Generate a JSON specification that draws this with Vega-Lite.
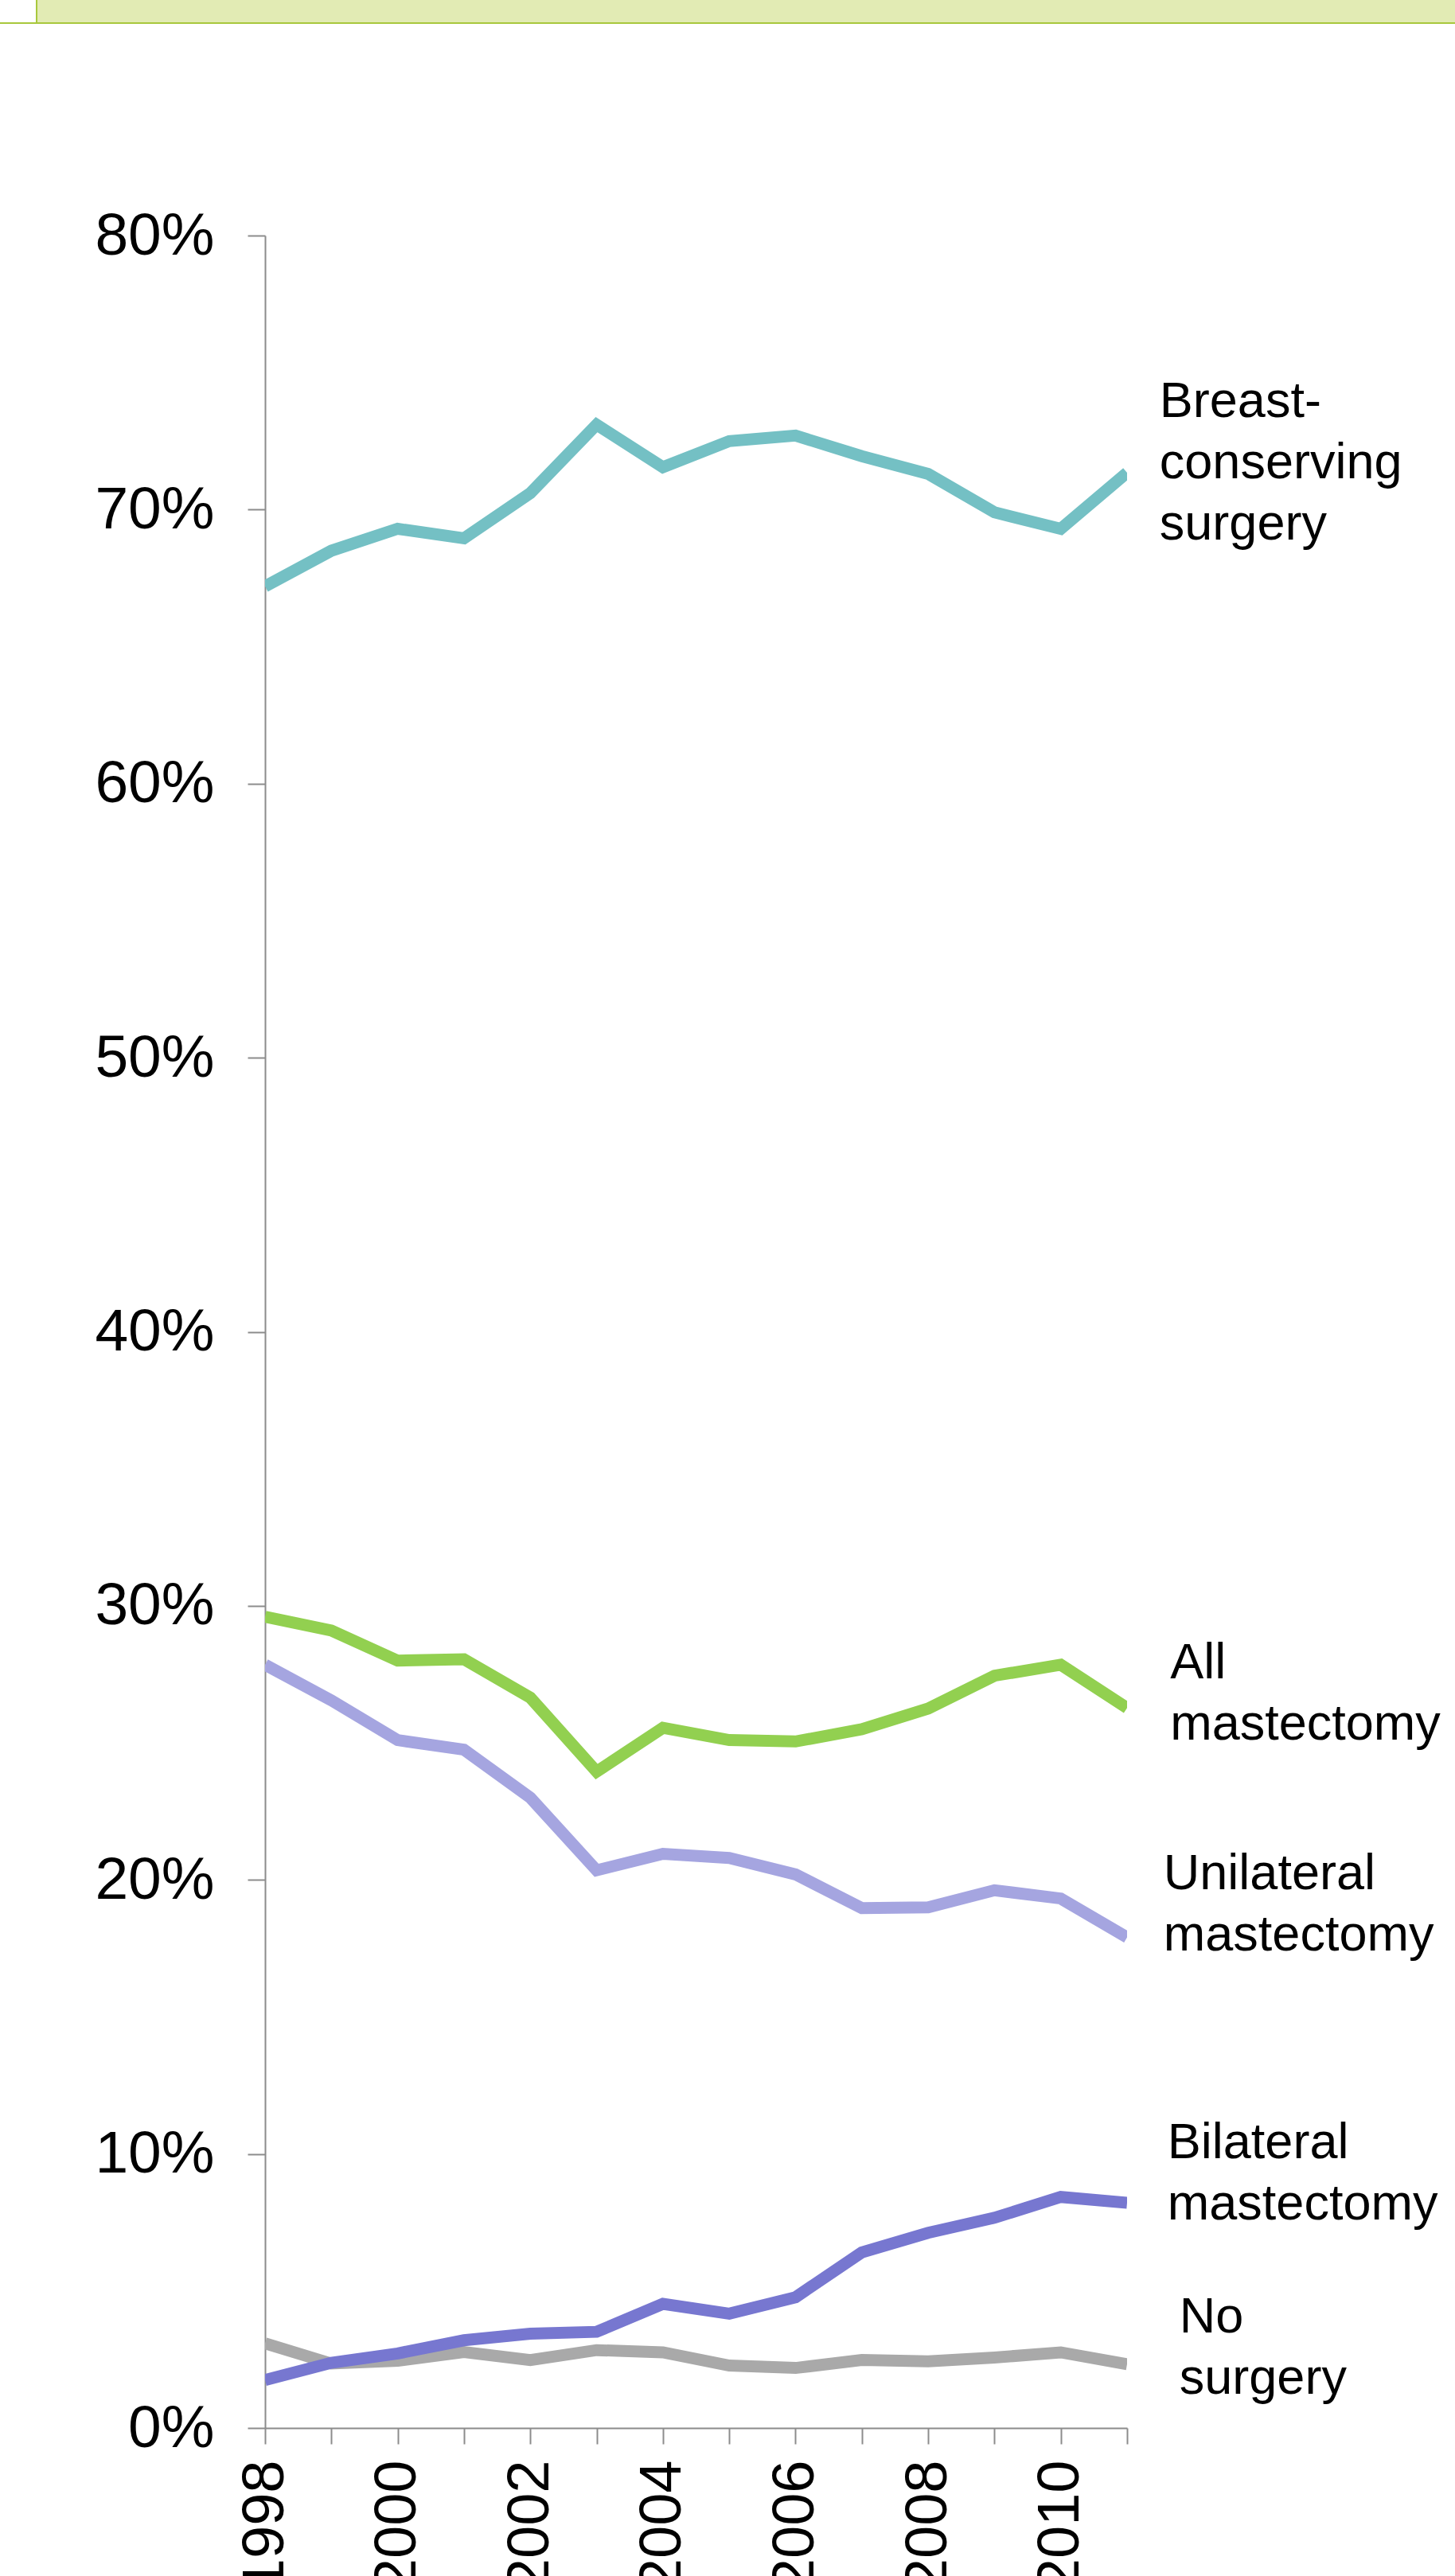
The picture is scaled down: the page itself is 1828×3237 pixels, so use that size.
{
  "$schema": "https://vega.github.io/schema/vega-lite/v6.json",
  "width": 1083,
  "height": 2755,
  "autosize": {"type": "none"},
  "padding": {"left": 333, "top": 296, "right": 412, "bottom": 186},
  "background": "white",
  "config": {"view": {"stroke": null}, "font": "Liberation Sans"},
  "datasets": {
    "series": [
      {"series": "No surgery", "year": 1998, "pct": 3.09},
      {"series": "No surgery", "year": 1999, "pct": 2.35},
      {"series": "No surgery", "year": 2000, "pct": 2.45},
      {"series": "No surgery", "year": 2001, "pct": 2.77},
      {"series": "No surgery", "year": 2002, "pct": 2.48},
      {"series": "No surgery", "year": 2003, "pct": 2.84},
      {"series": "No surgery", "year": 2004, "pct": 2.76},
      {"series": "No surgery", "year": 2005, "pct": 2.28},
      {"series": "No surgery", "year": 2006, "pct": 2.19},
      {"series": "No surgery", "year": 2007, "pct": 2.48},
      {"series": "No surgery", "year": 2008, "pct": 2.43},
      {"series": "No surgery", "year": 2009, "pct": 2.57},
      {"series": "No surgery", "year": 2010, "pct": 2.76},
      {"series": "No surgery", "year": 2011, "pct": 2.33},
      {"series": "Bilateral mastectomy", "year": 1998, "pct": 1.75},
      {"series": "Bilateral mastectomy", "year": 1999, "pct": 2.38},
      {"series": "Bilateral mastectomy", "year": 2000, "pct": 2.72},
      {"series": "Bilateral mastectomy", "year": 2001, "pct": 3.2},
      {"series": "Bilateral mastectomy", "year": 2002, "pct": 3.44},
      {"series": "Bilateral mastectomy", "year": 2003, "pct": 3.51},
      {"series": "Bilateral mastectomy", "year": 2004, "pct": 4.53},
      {"series": "Bilateral mastectomy", "year": 2005, "pct": 4.17},
      {"series": "Bilateral mastectomy", "year": 2006, "pct": 4.77},
      {"series": "Bilateral mastectomy", "year": 2007, "pct": 6.41},
      {"series": "Bilateral mastectomy", "year": 2008, "pct": 7.12},
      {"series": "Bilateral mastectomy", "year": 2009, "pct": 7.67},
      {"series": "Bilateral mastectomy", "year": 2010, "pct": 8.43},
      {"series": "Bilateral mastectomy", "year": 2011, "pct": 8.22},
      {"series": "Unilateral mastectomy", "year": 1998, "pct": 27.85},
      {"series": "Unilateral mastectomy", "year": 1999, "pct": 26.55},
      {"series": "Unilateral mastectomy", "year": 2000, "pct": 25.1},
      {"series": "Unilateral mastectomy", "year": 2001, "pct": 24.75},
      {"series": "Unilateral mastectomy", "year": 2002, "pct": 23.0},
      {"series": "Unilateral mastectomy", "year": 2003, "pct": 20.35},
      {"series": "Unilateral mastectomy", "year": 2004, "pct": 20.95},
      {"series": "Unilateral mastectomy", "year": 2005, "pct": 20.8},
      {"series": "Unilateral mastectomy", "year": 2006, "pct": 20.2},
      {"series": "Unilateral mastectomy", "year": 2007, "pct": 18.97},
      {"series": "Unilateral mastectomy", "year": 2008, "pct": 19.0},
      {"series": "Unilateral mastectomy", "year": 2009, "pct": 19.62},
      {"series": "Unilateral mastectomy", "year": 2010, "pct": 19.32},
      {"series": "Unilateral mastectomy", "year": 2011, "pct": 17.9},
      {"series": "All mastectomy", "year": 1998, "pct": 29.6},
      {"series": "All mastectomy", "year": 1999, "pct": 29.1},
      {"series": "All mastectomy", "year": 2000, "pct": 28.0},
      {"series": "All mastectomy", "year": 2001, "pct": 28.05},
      {"series": "All mastectomy", "year": 2002, "pct": 26.65},
      {"series": "All mastectomy", "year": 2003, "pct": 23.95},
      {"series": "All mastectomy", "year": 2004, "pct": 25.55},
      {"series": "All mastectomy", "year": 2005, "pct": 25.1},
      {"series": "All mastectomy", "year": 2006, "pct": 25.05},
      {"series": "All mastectomy", "year": 2007, "pct": 25.5},
      {"series": "All mastectomy", "year": 2008, "pct": 26.25},
      {"series": "All mastectomy", "year": 2009, "pct": 27.45},
      {"series": "All mastectomy", "year": 2010, "pct": 27.85},
      {"series": "All mastectomy", "year": 2011, "pct": 26.27},
      {"series": "Breast-conserving surgery", "year": 1998, "pct": 67.2},
      {"series": "Breast-conserving surgery", "year": 1999, "pct": 68.5},
      {"series": "Breast-conserving surgery", "year": 2000, "pct": 69.3},
      {"series": "Breast-conserving surgery", "year": 2001, "pct": 68.95},
      {"series": "Breast-conserving surgery", "year": 2002, "pct": 70.6},
      {"series": "Breast-conserving surgery", "year": 2003, "pct": 73.1},
      {"series": "Breast-conserving surgery", "year": 2004, "pct": 71.55},
      {"series": "Breast-conserving surgery", "year": 2005, "pct": 72.5},
      {"series": "Breast-conserving surgery", "year": 2006, "pct": 72.7},
      {"series": "Breast-conserving surgery", "year": 2007, "pct": 71.95},
      {"series": "Breast-conserving surgery", "year": 2008, "pct": 71.3},
      {"series": "Breast-conserving surgery", "year": 2009, "pct": 69.9},
      {"series": "Breast-conserving surgery", "year": 2010, "pct": 69.3},
      {"series": "Breast-conserving surgery", "year": 2011, "pct": 71.35}
    ],
    "labels": [
      {"label": "Breast-\nconserving\nsurgery", "year": 2011.49, "pct": 73.38},
      {"label": "All\nmastectomy", "year": 2011.65, "pct": 27.35},
      {"label": "Unilateral\nmastectomy", "year": 2011.55, "pct": 19.66},
      {"label": "Bilateral\nmastectomy", "year": 2011.61, "pct": 9.84},
      {"label": "No\nsurgery", "year": 2011.79, "pct": 3.48}
    ]
  },
  "layer": [
    {
      "data": {"values": [{}]},
      "mark": {"type": "rect", "fill": "#E2EBB4", "stroke": "#A8C83C", "strokeWidth": 2},
      "encoding": {
        "x": {"datum": 1994.555, "type": "quantitative", "scale": {"domain": [1998, 2011], "nice": false, "zero": false}},
        "x2": {"datum": 2017},
        "y": {"datum": 87.75, "type": "quantitative", "scale": {"domain": [0, 80], "nice": false, "zero": false}},
        "y2": {"datum": 91}
      }
    },
    {
      "data": {"values": [{}]},
      "mark": {"type": "rule", "stroke": "#A8C83C", "strokeWidth": 2},
      "encoding": {
        "x": {"datum": 1993.9, "type": "quantitative", "scale": {"domain": [1998, 2011], "nice": false, "zero": false}},
        "x2": {"datum": 1994.6},
        "y": {"datum": 87.75, "type": "quantitative", "scale": {"domain": [0, 80], "nice": false, "zero": false}}
      }
    },
    {
      "data": {"name": "series"},
      "mark": {"type": "line", "strokeWidth": 15, "strokeCap": "butt", "strokeJoin": "miter", "clip": true},
      "encoding": {
        "x": {
          "field": "year", "type": "quantitative",
          "scale": {"domain": [1998, 2011], "nice": false, "zero": false},
          "axis": {
            "values": [1998, 1999, 2000, 2001, 2002, 2003, 2004, 2005, 2006, 2007, 2008, 2009, 2010, 2011],
            "labelExpr": "datum.value % 2 == 0 ? '' + datum.value : ''",
            "labelAngle": -90, "labelFontSize": 74, "labelColor": "#000000", "labelFont": "Liberation Sans",
            "labelPadding": 20, "tickSize": 20, "tickColor": "#8C8C8C", "tickWidth": 2,
            "domainColor": "#8C8C8C", "domainWidth": 2, "grid": false, "title": null,
            "labelFlush": false, "labelOverlap": false, "labelBound": false
          }
        },
        "y": {
          "field": "pct", "type": "quantitative",
          "scale": {"domain": [0, 80], "nice": false, "zero": false},
          "axis": {
            "values": [0, 10, 20, 30, 40, 50, 60, 70, 80],
            "labelExpr": "datum.value + '%'",
            "labelFontSize": 75, "labelColor": "#000000", "labelFont": "Liberation Sans",
            "labelPadding": 42, "tickSize": 22, "tickColor": "#8C8C8C", "tickWidth": 2,
            "domainColor": "#8C8C8C", "domainWidth": 2, "grid": false, "title": null,
            "labelFlush": false, "labelOverlap": false, "labelBound": false
          }
        },
        "color": {
          "field": "series", "type": "nominal",
          "scale": {
            "domain": ["No surgery", "Bilateral mastectomy", "Unilateral mastectomy", "All mastectomy", "Breast-conserving surgery"],
            "range": ["#A9A9A9", "#7777D0", "#A5A5E0", "#92D050", "#74C0C4"]
          },
          "legend": null
        }
      }
    },
    {
      "data": {"name": "labels"},
      "mark": {"type": "text", "align": "left", "baseline": "alphabetic", "fontSize": 63, "lineHeight": 77, "lineBreak": "\n", "color": "#000000", "font": "Liberation Sans"},
      "encoding": {
        "x": {"field": "year", "type": "quantitative", "scale": {"domain": [1998, 2011], "nice": false, "zero": false}},
        "y": {"field": "pct", "type": "quantitative", "scale": {"domain": [0, 80], "nice": false, "zero": false}},
        "text": {"field": "label", "type": "nominal"}
      }
    }
  ]
}
